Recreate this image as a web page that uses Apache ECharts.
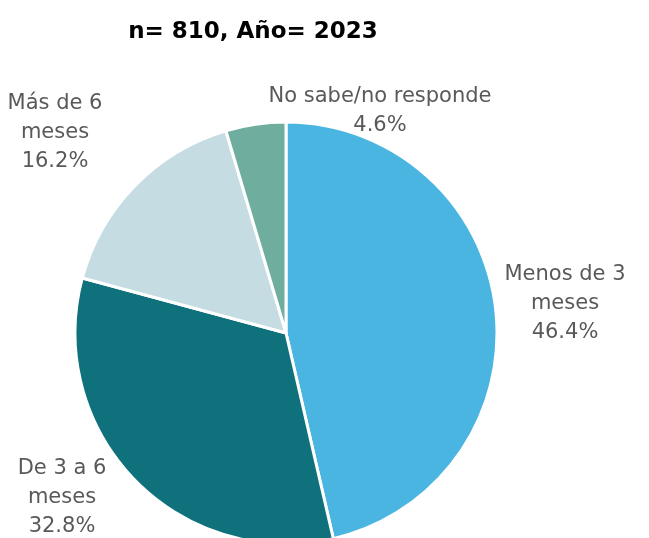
<!DOCTYPE html>
<html>
<head>
<meta charset="utf-8">
<script src="https://cdn.jsdelivr.net/npm/echarts@6/dist/echarts.min.js"></script>
<style>
  html, body { margin: 0; padding: 0; background: #fff; }
  #main { width: 649px; height: 538px; }
</style>
</head>
<body>
<div id="main"></div>
<script>
// datos del gráfico
var categorias = ['Menos de 3\nmeses', 'De 3 a 6\nmeses', 'Más de 6\nmeses', 'No sabe/no responde'];
var valores = [46.4, 32.8, 16.2, 4.6];
var colores = ['#4BB5E2', '#0E717C', '#C5DDE2', '#6FAE9F'];

var myChart = echarts.init(document.getElementById('main'));

var datos = categorias.map(function (c, i) {
    return { name: c, value: valores[i], itemStyle: { color: colores[i] } };
});

// posición de las etiquetas (centro del bloque de texto)
var posEtiquetas = [[565, 304], [62, 498], [55, 133], [380, 111]];

option = {
    animation: false,
    title: {
        text: 'n= 810, Año= 2023',
        left: 248,
        top: 16,
        textAlign: 'center',
        textStyle: {
            fontFamily: 'DejaVu Sans',
            fontWeight: 'bold',
            fontSize: 23,
            color: '#000'
        }
    },
    series: [
        {
            type: 'pie',
            center: [286, 333],
            radius: 211,
            startAngle: 90,
            clockwise: true,
            itemStyle: {
                borderColor: '#fff',
                borderWidth: 3
            },
            label: {
                show: true,
                position: 'outside',
                formatter: function (p) {
                    return p.name + '\n' + p.value.toFixed(1) + '%';
                },
                fontFamily: 'DejaVu Sans',
                fontSize: 21,
                lineHeight: 29,
                color: '#595959',
                align: 'center',
                overflow: 'none'
            },
            labelLine: { show: false },
            labelLayout: function (p) {
                var pos = posEtiquetas[p.dataIndex];
                return { x: pos[0], y: pos[1], align: 'center', verticalAlign: 'middle' };
            },
            data: datos
        }
    ]
};
myChart.setOption(option);
</script>
</body>
</html>
